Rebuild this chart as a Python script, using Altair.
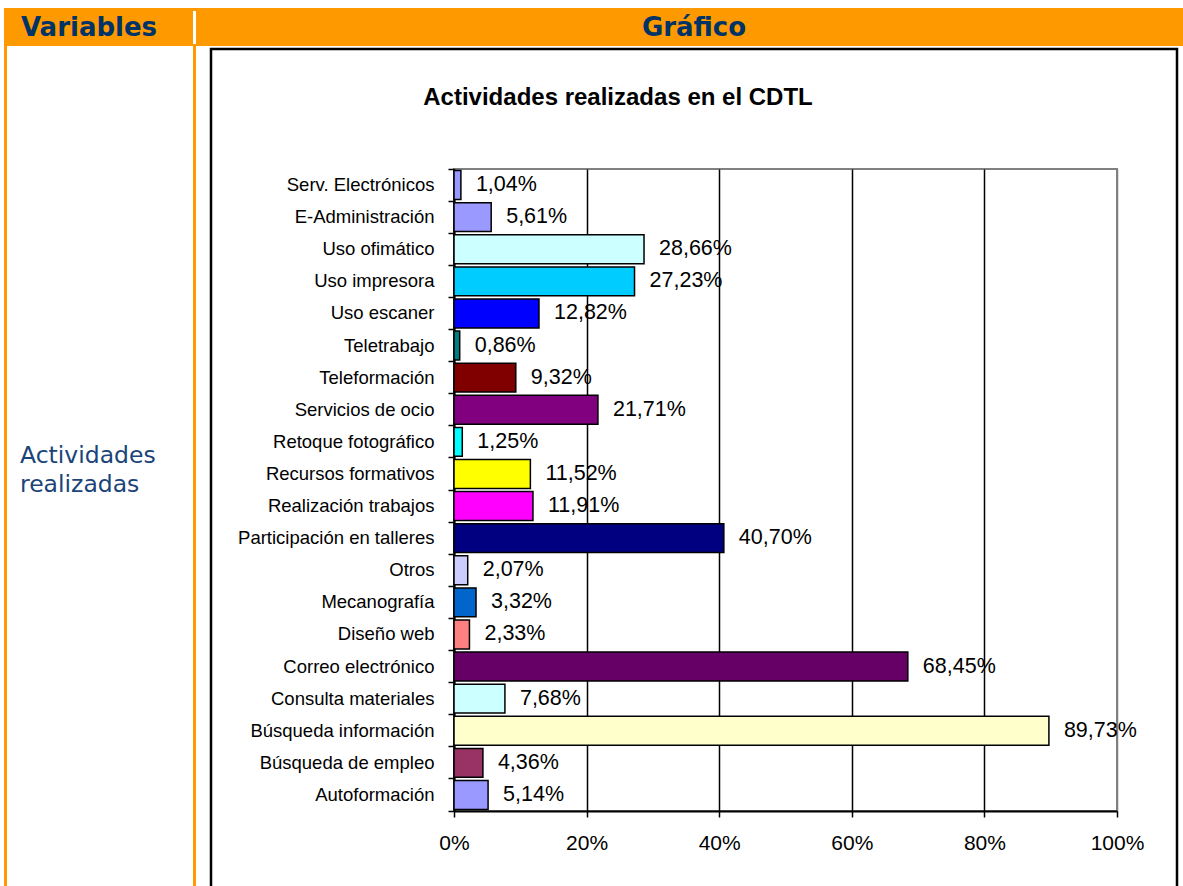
import altair as alt
import pandas as pd

# ---- data ----
categorias = [
    "Serv. Electrónicos", "E-Administración", "Uso ofimático", "Uso impresora",
    "Uso escaner", "Teletrabajo", "Teleformación", "Servicios de ocio",
    "Retoque fotográfico", "Recursos formativos", "Realización trabajos",
    "Participación en talleres", "Otros", "Mecanografía", "Diseño web",
    "Correo electrónico", "Consulta materiales", "Búsqueda información",
    "Búsqueda de empleo", "Autoformación",
]
valores = [1.04, 5.61, 28.66, 27.23, 12.82, 0.86, 9.32, 21.71, 1.25, 11.52,
           11.91, 40.70, 2.07, 3.32, 2.33, 68.45, 7.68, 89.73, 4.36, 5.14]
colores = ["#9999FF", "#9999FF", "#CCFFFF", "#00CCFF", "#0000FF", "#008080",
           "#800000", "#800080", "#00FFFF", "#FFFF00", "#FF00FF", "#000080",
           "#CCCCFF", "#0066CC", "#FF8080", "#660066", "#CCFFFF", "#FFFFCC",
           "#993366", "#9999FF"]
x_ticks = [0, 20, 40, 60, 80, 100]

titulo = "Actividades realizadas en el CDTL"
cab_izq = "Variables"
cab_der = "Gráfico"
etiqueta_var = ["Actividades", "realizadas"]

df = pd.DataFrame({"categoria": categorias, "valor": valores})

# ---- layout (plot area placed at left=454, top=169) ----
W, H = 663, 642
PAD = {"left": 454, "top": 169, "right": 1183 - 454 - W, "bottom": 886 - 169 - H}
CHART_FONT = "Liberation Sans"
HEAD_FONT = "DejaVu Sans"
ORANGE = "#FF9900"
NAVY = "#003366"

one = alt.Data(values=[{}])

def rect(x, x2, y, y2, **kw):
    return alt.Chart(one).mark_rect(**kw).encode(
        x=alt.value(x), x2=alt.value(x2), y=alt.value(y), y2=alt.value(y2))

def label(txt, x, y, **kw):
    return alt.Chart(one).mark_text(**kw).encode(
        x=alt.value(x), y=alt.value(y), text=alt.value(txt))

ox, oy = PAD["left"], PAD["top"]

header = rect(4 - ox, 1183 - ox, 8 - oy, 46 - oy, color=ORANGE)
head_sep = rect(193 - ox, 196 - ox, 11 - oy, 44 - oy, color="white")
col_left = rect(4 - ox, 7 - ox, 46 - oy, 886 - oy, color=ORANGE)
col_mid = rect(193 - ox, 196 - ox, 46 - oy, 886 - oy, color=ORANGE)
box = rect(211 - ox, 1177 - ox, 49 - oy, 900 - oy,
           filled=False, stroke="black", strokeWidth=2.5)

t_var = label(cab_izq, 89 - ox, 28 - oy, font=HEAD_FONT, fontSize=26,
              fontWeight="bold", color=NAVY, align="center", baseline="middle")
t_graf = label(cab_der, 694 - ox, 28 - oy, font=HEAD_FONT, fontSize=26,
               fontWeight="bold", color=NAVY, align="center", baseline="middle")
t_act1 = label(etiqueta_var[0], 20 - ox, 456 - oy, font=HEAD_FONT, fontSize=23.5,
               color="#1B4478", align="left", baseline="middle")
t_act2 = label(etiqueta_var[1], 20 - ox, 485 - oy, font=HEAD_FONT, fontSize=23.5,
               color="#1B4478", align="left", baseline="middle")
t_title = label(titulo, 618 - ox, 98 - oy, font=CHART_FONT, fontSize=24,
                fontWeight="bold", color="black", align="center", baseline="middle")

x_enc = alt.X(
    "valor:Q",
    scale=alt.Scale(domain=[0, 100], nice=False, zero=True),
    axis=alt.Axis(
        values=x_ticks, labelExpr="datum.value + '%'", title=None,
        grid=True,
        gridColor=alt.condition("datum.value === 100", alt.value("#808080"), alt.value("black")),
        gridWidth=1.5,
        domainColor="black", domainWidth=2, tickColor="black", tickWidth=1.5,
        tickSize=6, labelFontSize=21, labelFont=CHART_FONT, labelColor="black",
        labelPadding=15, labelFlush=False,
    ),
)
y_enc = alt.Y(
    "categoria:N", sort=None,
    scale=alt.Scale(paddingInner=0, paddingOuter=0),
    axis=alt.Axis(
        title=None, bandPosition=1, tickExtra=True, grid=False,
        domainColor="black", domainWidth=2, tickColor="black", tickWidth=1.5,
        tickSize=6, labelFontSize=18.5, labelFont=CHART_FONT, labelColor="black",
        labelPadding=14, labelLimit=300,
    ),
)

bars = alt.Chart(df).mark_bar(
    stroke="black", strokeWidth=1.5, height=alt.RelativeBandSize(0.9)
).encode(
    x=x_enc, y=y_enc,
    color=alt.Color("categoria:N", sort=None,
                    scale=alt.Scale(domain=categorias, range=colores), legend=None),
)

texts = alt.Chart(df).transform_calculate(
    etiqueta="replace(format(datum.valor, '.2f'), '.', ',') + '%'"
).mark_text(
    align="left", baseline="middle", dx=15, fontSize=21.5, font=CHART_FONT, color="black"
).encode(x="valor:Q", y=alt.Y("categoria:N", sort=None), text="etiqueta:N")

chart = alt.layer(
    header, head_sep, col_left, col_mid, box,
    t_var, t_graf, t_act1, t_act2, t_title,
    bars, texts,
).properties(
    width=W, height=H,
    autosize=alt.AutoSizeParams(type="none"),
    padding=PAD,
    background="white",
).configure_view(stroke="#808080", strokeWidth=2)

chart.save("out.html", embed_options={"renderer": "svg", "actions": False})
